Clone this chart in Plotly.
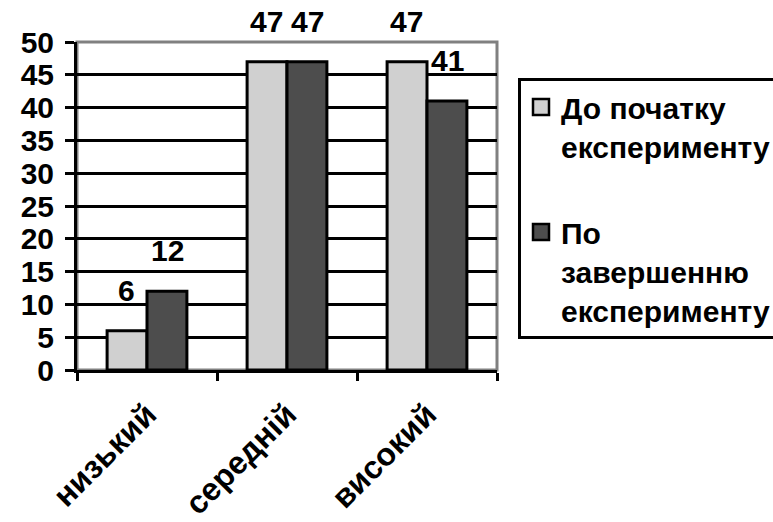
import plotly.graph_objects as go

# Рівні сформованості та кількість учнів (%) до і після експерименту
categories = ["низький", "середній", "високий"]
before_values = [6, 47, 47]
after_values = [12, 47, 41]
series_names = ["До початку<br>експерименту", "По<br>завершенню<br>експерименту"]
y_ticks = [0, 5, 10, 15, 20, 25, 30, 35, 40, 45, 50]

FAMILY = "Liberation Sans, Arial, sans-serif"
FONT = dict(family=FAMILY, color="black", size=30, weight="bold")
COLORS = ["#d0d0d0", "#4d4d4d"]

fig = go.Figure()
for vals, name, color, grp in ((before_values, series_names[0], COLORS[0], "a"),
                               (after_values, series_names[1], COLORS[1], "b")):
    fig.add_trace(go.Bar(
        x=categories, y=vals, name=name,
        marker=dict(color=color, line=dict(color="black", width=3)),
        legendgroup=grp, showlegend=False,
    ))
    # Легенда з більшими квадратними маркерами
    fig.add_trace(go.Scatter(
        x=[None], y=[None], mode="markers", name=name, legendgroup=grp,
        marker=dict(symbol="square", size=16, color=color,
                    line=dict(color="black", width=2.5)),
    ))

# Підписи значень над стовпчиками
for vals, shift in ((before_values, -21), (after_values, 20)):
    for cat, v in zip(categories, vals):
        fig.add_annotation(
            x=cat, y=v, text=str(v), showarrow=False,
            xshift=shift, yshift=22, yanchor="bottom",
            font=FONT,
        )

# Сіра рамка області побудови (верх і праворуч)
fig.add_shape(type="rect", xref="paper", yref="paper", x0=0, x1=1, y0=0, y1=1,
              line=dict(color="#808080", width=3), layer="below")

fig.update_layout(
    width=773, height=522,
    margin=dict(l=77, r=276, t=42, b=152, autoexpand=False),
    paper_bgcolor="white", plot_bgcolor="white",
    barmode="group", bargap=0.43, bargroupgap=0.0,
    font=FONT,
    showlegend=True,
    legend=dict(
        x=1.05, y=0.89, xanchor="left", yanchor="top",
        bgcolor="white", bordercolor="black", borderwidth=3,
        font=dict(family=FAMILY, size=30, color="black", weight="bold"),
        valign="top", tracegroupgap=44, itemwidth=30,
    ),
    xaxis=dict(
        type="category", showline=True, linecolor="black", linewidth=3,
        ticks="outside", ticklen=8, tickwidth=3, tickcolor="black",
        tickson="boundaries", tickangle=-45, showgrid=False,
        tickfont=dict(family=FAMILY, size=32, color="black", weight="bold"),
        ticklabelstandoff=10,
    ),
    yaxis=dict(
        range=[0, 50], tickvals=y_ticks, showline=True, linecolor="black", linewidth=3,
        ticks="outside", ticklen=9, tickwidth=3, tickcolor="black",
        showgrid=True, gridcolor="black", gridwidth=3, zeroline=False,
        tickfont=dict(family=FAMILY, size=30, color="black", weight="bold"),
        ticklabelstandoff=5,
    ),
)

fig.write_html("out.html")
